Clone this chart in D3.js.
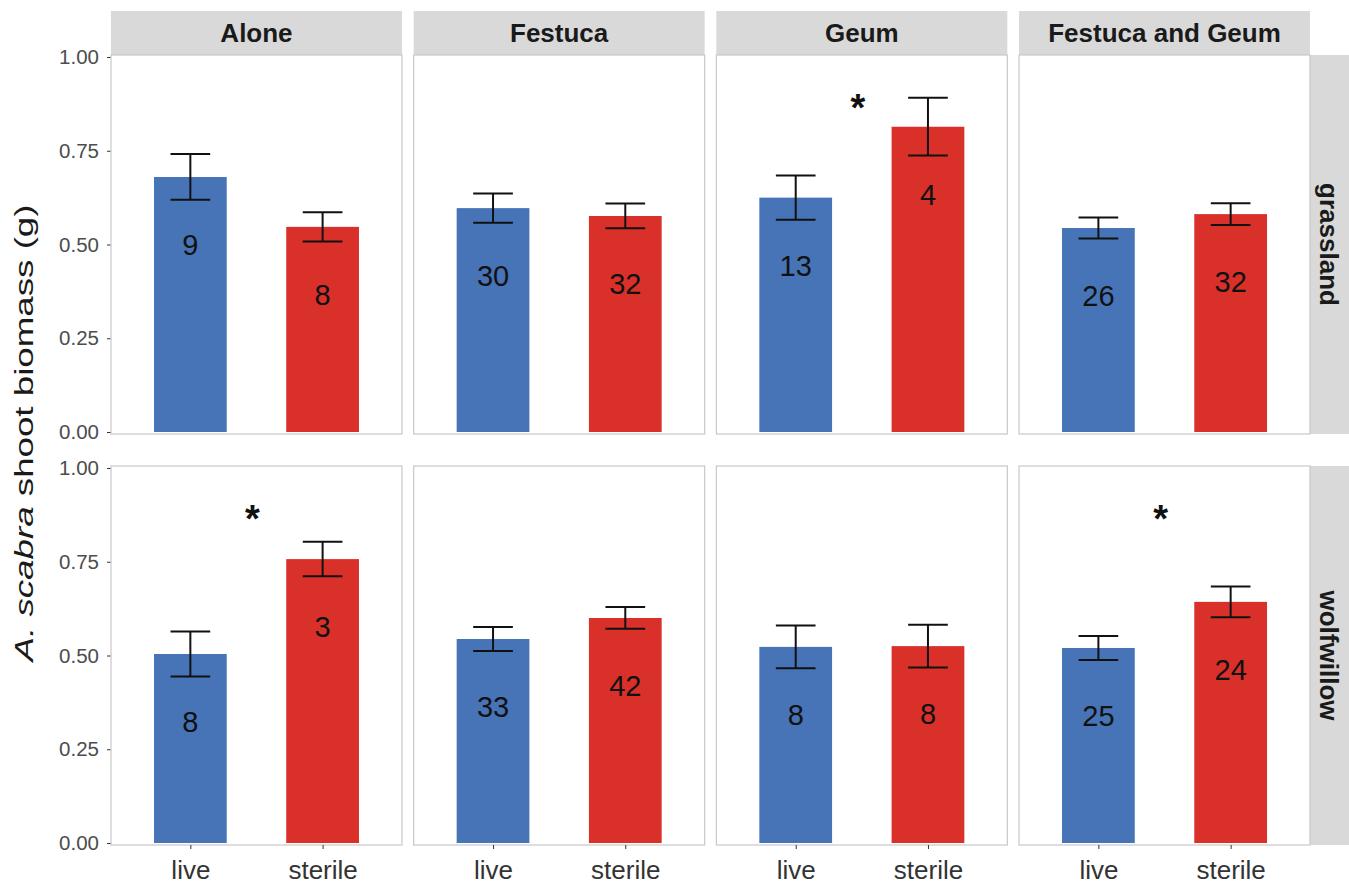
<!DOCTYPE html>
<html>
<head>
<meta charset="utf-8">
<script src="https://cdn.jsdelivr.net/npm/d3@7"></script>
<style>
  body { margin: 0; background: #fff; }
  text { font-family: "Liberation Sans", Arial, sans-serif; }
</style>
</head>
<body>
<div id="svg-area"></div>
<script>
// categories
var treatments = ["Alone", "Festuca", "Geum", "Festuca and Geum"];
var habitats = ["grassland", "wolfwillow"];
var soils = ["live", "sterile"];
var yTicks = [0, 0.25, 0.5, 0.75, 1];

// mean shoot biomass (g), one value per treatment
var grasslandLive = [0.680, 0.597, 0.625, 0.544];
var grasslandSterile = [0.547, 0.576, 0.814, 0.581];
var wolfwillowLive = [0.504, 0.544, 0.523, 0.520];
var wolfwillowSterile = [0.757, 0.600, 0.525, 0.643];

// standard errors
var grasslandLiveSE = [0.061, 0.039, 0.059, 0.028];
var grasslandSterileSE = [0.039, 0.033, 0.077, 0.029];
var wolfwillowLiveSE = [0.060, 0.032, 0.057, 0.032];
var wolfwillowSterileSE = [0.046, 0.029, 0.057, 0.041];

// sample sizes
var grasslandLiveN = [9, 30, 13, 26];
var grasslandSterileN = [8, 32, 4, 32];
var wolfwillowLiveN = [8, 33, 8, 25];
var wolfwillowSterileN = [3, 42, 8, 24];

// significant difference marker
var grasslandSig = [false, false, true, false];
var wolfwillowSig = [true, false, false, true];

var colors = { live: "#4674b7", sterile: "#d9302a" };

// build rows of data
var series = {
    grassland: { live: [grasslandLive, grasslandLiveSE, grasslandLiveN], sterile: [grasslandSterile, grasslandSterileSE, grasslandSterileN], sig: grasslandSig },
    wolfwillow: { live: [wolfwillowLive, wolfwillowLiveSE, wolfwillowLiveN], sterile: [wolfwillowSterile, wolfwillowSterileSE, wolfwillowSterileN], sig: wolfwillowSig }
};

var svgWidth = 1349, svgHeight = 884;
var svg = d3.select("#svg-area").append("svg")
    .attr("width", svgWidth)
    .attr("height", svgHeight);

// panel layout
var panelX = d3.scaleBand().domain(treatments).range([111, 1310]).paddingInner(0.0387);
var panelY = d3.scaleOrdinal().domain(habitats).range([55, 466]);
var panelH = 379;
var stripH = 44;

// within-panel scales
var xPos = d3.scaleLinear().domain([0.4, 2.6]).range([0, panelX.bandwidth()]);
var unit = xPos(1) - xPos(0);
var y = d3.scaleLinear().domain([-0.0053, 1.0053]).range([panelH, 0]);

// top strips
treatments.forEach(function (t) {
    svg.append("rect")
        .attr("x", panelX(t)).attr("y", 11)
        .attr("width", panelX.bandwidth()).attr("height", stripH)
        .attr("fill", "#d9d9d9");
    svg.append("text")
        .attr("x", panelX(t) + panelX.bandwidth() / 2)
        .attr("y", 11 + stripH / 2)
        .attr("dy", "0.36em")
        .attr("text-anchor", "middle")
        .attr("font-size", "26px")
        .attr("font-weight", "bold")
        .attr("fill", "#1a1a1a")
        .text(t);
});

habitats.forEach(function (h, hi) {
    var top = panelY(h);

    // right strip
    svg.append("rect")
        .attr("x", 1310).attr("y", top)
        .attr("width", 45).attr("height", panelH)
        .attr("fill", "#d9d9d9");
    svg.append("text")
        .attr("transform", `translate(1329, ${top + panelH / 2}) rotate(90)`)
        .attr("dy", "0.36em")
        .attr("text-anchor", "middle")
        .attr("font-size", "26px")
        .attr("font-weight", "bold")
        .attr("fill", "#1a1a1a")
        .text(h);

    // y axis
    var yAxis = svg.append("g")
        .attr("transform", `translate(${panelX(treatments[0])}, ${top})`)
        .call(d3.axisLeft(y).tickValues(yTicks).tickFormat(d3.format(".2f")).tickSize(4).tickPadding(8));
    yAxis.select(".domain").remove();
    yAxis.selectAll("line").attr("stroke", "#333");
    yAxis.selectAll("text").attr("font-size", "20.5px").attr("fill", "#4d4d4d")
        .attr("font-family", "Liberation Sans, Arial, sans-serif");

    treatments.forEach(function (t, ti) {
        var g = svg.append("g")
            .attr("transform", `translate(${panelX(t)}, ${top})`);

        g.append("rect")
            .attr("x", 0).attr("y", 0)
            .attr("width", panelX.bandwidth()).attr("height", panelH)
            .attr("fill", "#fff")
            .attr("stroke", "#c8c8c8")
            .attr("stroke-width", 1.2);

        soils.forEach(function (s, si) {
            var vals = series[h][s];
            var m = vals[0][ti], se = vals[1][ti], n = vals[2][ti];
            var cx = xPos(si + 1);

            g.append("rect")
                .attr("x", cx - 0.275 * unit)
                .attr("y", y(m))
                .attr("width", 0.55 * unit)
                .attr("height", y(0) - y(m))
                .attr("fill", colors[s]);

            // error bar
            var ew = 0.15 * unit;
            g.append("line")
                .attr("x1", cx).attr("x2", cx)
                .attr("y1", y(m + se)).attr("y2", y(m - se))
                .attr("stroke", "#111").attr("stroke-width", 2);
            [m + se, m - se].forEach(function (v) {
                g.append("line")
                    .attr("x1", cx - ew).attr("x2", cx + ew)
                    .attr("y1", y(v)).attr("y2", y(v))
                    .attr("stroke", "#111").attr("stroke-width", 2);
            });

            // sample size label
            g.append("text")
                .attr("x", cx)
                .attr("y", y(m - 0.18))
                .attr("dy", "0.36em")
                .attr("text-anchor", "middle")
                .attr("font-size", "29px")
                .attr("fill", "#111")
                .text(n);
        });

        if (series[h].sig[ti]) {
            g.append("text")
                .attr("x", xPos(1.47))
                .attr("y", y(0.885) + 21)
                .attr("text-anchor", "middle")
                .attr("font-size", "38px")
                .attr("font-weight", "bold")
                .attr("fill", "#111")
                .text("*");
        }

        // x axis on bottom row
        if (hi === habitats.length - 1) {
            var xAxis = g.append("g")
                .attr("transform", `translate(0, ${panelH})`)
                .call(d3.axisBottom(xPos).tickValues([1, 2]).tickFormat(function (d) { return soils[d - 1]; }).tickSize(4).tickPadding(12));
            xAxis.select(".domain").remove();
            xAxis.selectAll("line").attr("stroke", "#333");
            xAxis.selectAll("text").attr("font-size", "26px").attr("fill", "#333")
                .attr("font-family", "Liberation Sans, Arial, sans-serif");
        }
    });
});

// y axis title
var yTitle = svg.append("text")
    .attr("transform", "translate(33, 433) rotate(-90)")
    .attr("text-anchor", "middle")
    .attr("font-size", "26px")
    .attr("fill", "#1a1a1a")
    .attr("textLength", 457)
    .attr("lengthAdjust", "spacingAndGlyphs");
yTitle.append("tspan").text("A. ").attr("font-style", "italic");
yTitle.append("tspan").text("scabra").attr("font-style", "italic");
yTitle.append("tspan").text(" shoot biomass (g)");
</script>
</body>
</html>
